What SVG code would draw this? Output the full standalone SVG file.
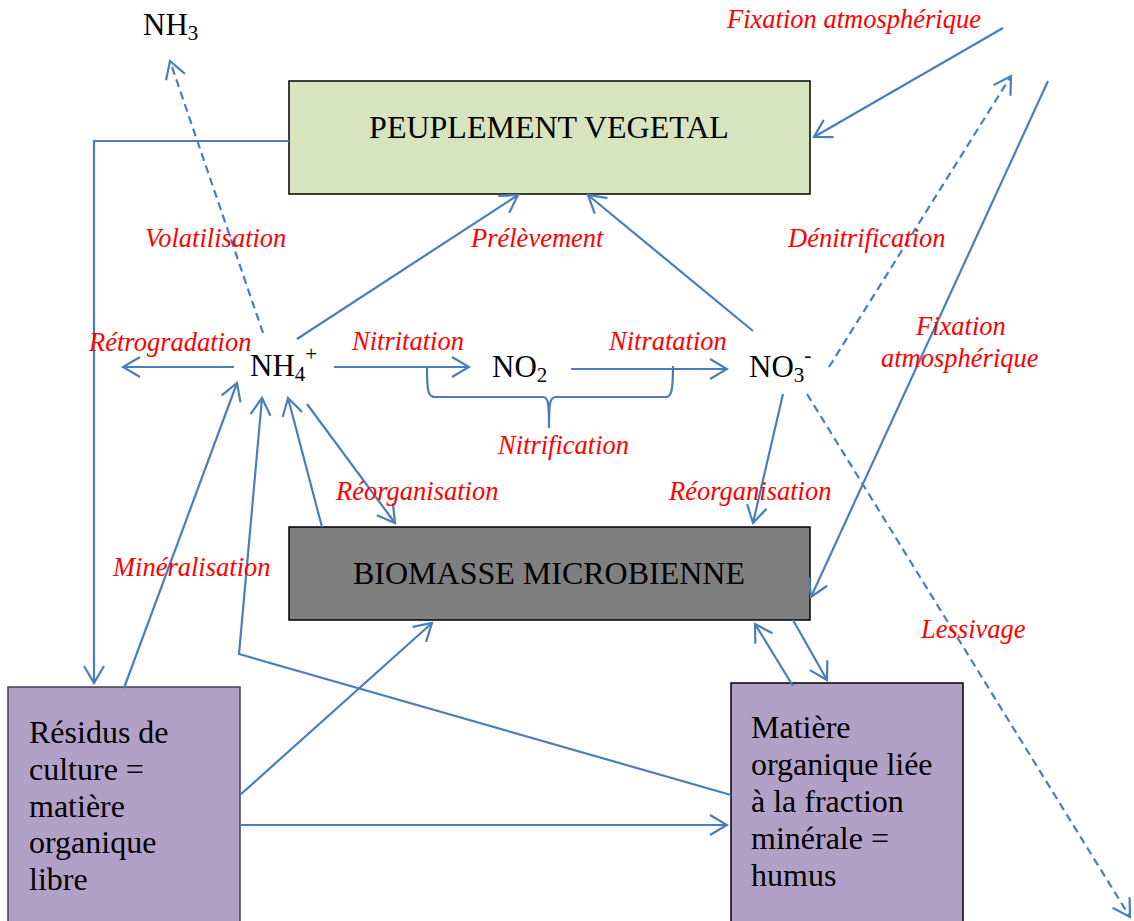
<svg xmlns="http://www.w3.org/2000/svg" width="1134" height="921" viewBox="0 0 1134 921">
<style>
.box{stroke:#000;stroke-width:1.5}
.bt{font-family:"Liberation Serif","Times New Roman",serif;font-size:32px;fill:#000}
.ch{font-family:"Liberation Serif","Times New Roman",serif;font-size:31px;fill:#000}
.lb{font-family:"Liberation Serif","Times New Roman",serif;font-size:26.5px;font-style:italic;fill:#FF0000}
.c{fill:none;stroke:#4A7EBB;stroke-width:2.2}
.a{marker-end:url(#ah)}
.d{stroke-dasharray:8 5}
</style>
<defs>
<marker id="ah" markerUnits="userSpaceOnUse" viewBox="-20 -12 22 24" refX="0" refY="0" markerWidth="22" markerHeight="24" orient="auto">
<path d="M-17,-10 L0,0 L-17,10" fill="none" stroke="#4A7EBB" stroke-width="2.2" stroke-dasharray="none"/>
</marker>
</defs>
<rect width="1134" height="921" fill="#fff"/>

<g id="peuplement">
<rect class="box" x="289" y="81" width="521" height="113" fill="#D7E4BD"/>
<text class="bt" x="549" y="138" text-anchor="middle">PEUPLEMENT VEGETAL</text>
</g>
<g id="biomasse">
<rect class="box" x="289" y="527" width="521" height="93" fill="#7F7F7F"/>
<text class="bt" x="549" y="584" text-anchor="middle">BIOMASSE MICROBIENNE</text>
</g>
<g id="residus">
<rect x="8" y="687" width="232" height="240" fill="#B2A1C7" stroke="#3F3F4F" stroke-width="1.5"/>
<text class="bt" x="29" y="743">Résidus de</text>
<text class="bt" x="29" y="780">culture =</text>
<text class="bt" x="29" y="817">matière</text>
<text class="bt" x="29" y="853">organique</text>
<text class="bt" x="29" y="890">libre</text>
</g>
<g id="humus">
<rect class="box" x="731" y="683" width="232" height="245" fill="#B2A1C7"/>
<text class="bt" x="751" y="738">Matière</text>
<text class="bt" x="751" y="775">organique liée</text>
<text class="bt" x="751" y="812">à la fraction</text>
<text class="bt" x="751" y="849">minérale =</text>
<text class="bt" x="751" y="886">humus</text>
</g>
<g id="nh3"><text class="ch" x="143" y="35">NH<tspan font-size="21" dy="5">3</tspan></text></g>
<g id="nh4"><text class="ch" x="250" y="376">NH<tspan font-size="21" dy="5">4</tspan><tspan font-size="21" dy="-20">+</tspan></text></g>
<g id="no2"><text class="ch" x="492" y="377">NO<tspan font-size="21" dy="5">2</tspan></text></g>
<g id="no3"><text class="ch" x="749" y="377">NO<tspan font-size="21" dy="5">3</tspan><tspan font-size="21" dy="-20">-</tspan></text></g>

<g id="connectors">
<polyline class="c a" points="289,141 94,141 94,683"/>
<line class="c a d" x1="263" y1="333" x2="170" y2="61"/>
<line class="c a" x1="297" y1="339" x2="518" y2="195"/>
<line class="c a" x1="753" y1="331" x2="588" y2="195"/>
<line class="c a" x1="1003" y1="28" x2="814" y2="137"/>
<line class="c a d" x1="829" y1="367" x2="1011" y2="76"/>
<line class="c a" x1="1048" y1="81" x2="811" y2="597"/>
<line class="c a d" x1="807" y1="394" x2="1130" y2="917"/>
<line class="c a" x1="234" y1="367" x2="123" y2="367"/>
<line class="c a" x1="334" y1="367" x2="469" y2="367"/>
<line class="c a" x1="571" y1="369" x2="727" y2="369"/>
<path class="c" d="M427,366 C427,392 428,397 435,397 L543,397 C548,397 549,402 549,428 C549,402 550,397 556,397 L666,397 C671,397 673,392 673,366"/>
<line class="c a" x1="307" y1="404" x2="395" y2="523"/>
<line class="c a" x1="322" y1="527" x2="288" y2="398"/>
<line class="c a" x1="783" y1="394" x2="753" y2="523"/>
<line class="c a" x1="124" y1="688" x2="237" y2="383"/>
<polyline class="c a" points="731,795 239,654 262,398"/>
<line class="c a" x1="240" y1="795" x2="432" y2="623"/>
<line class="c a" x1="240" y1="825" x2="727" y2="825"/>
<line class="c a" x1="793" y1="686" x2="755" y2="624"/>
<line class="c a" x1="793" y1="620" x2="827" y2="680"/>
</g>

<g id="labels">
<text class="lb" x="727" y="28">Fixation atmosphérique</text>
<text class="lb" x="145" y="247">Volatilisation</text>
<text class="lb" x="471" y="247">Prélèvement</text>
<text class="lb" x="788" y="247">Dénitrification</text>
<text class="lb" x="916" y="335">Fixation</text>
<text class="lb" x="881" y="367">atmosphérique</text>
<text class="lb" x="89" y="351">Rétrogradation</text>
<text class="lb" x="352" y="350">Nitritation</text>
<text class="lb" x="609" y="350">Nitratation</text>
<text class="lb" x="498" y="454">Nitrification</text>
<text class="lb" x="336" y="500">Réorganisation</text>
<text class="lb" x="669" y="500">Réorganisation</text>
<text class="lb" x="113" y="576">Minéralisation</text>
<text class="lb" x="921" y="638">Lessivage</text>
</g>
</svg>
